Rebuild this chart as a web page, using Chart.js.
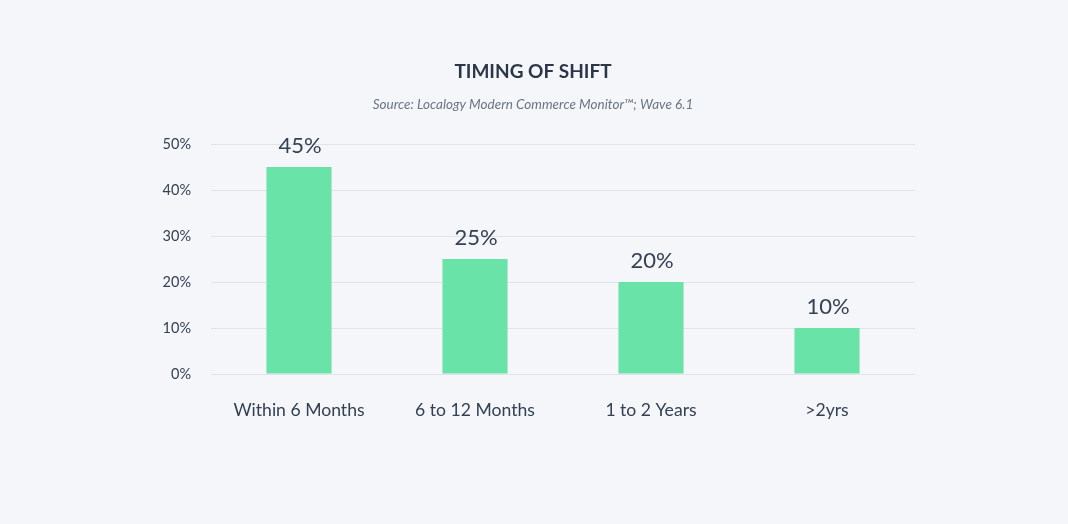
<!DOCTYPE html>
<html>
<head>
<meta charset="utf-8">
<script src="https://cdn.jsdelivr.net/npm/chart.js@4/dist/chart.umd.min.js"></script>
<style>
  html, body { margin: 0; padding: 0; background: #f5f6fa; }
  #wrap { width: 1068px; height: 524px; position: relative; }
</style>
</head>
<body>
<div id="wrap"><canvas id="chShift"></canvas></div>
<script>
// chart data
var categories = ['Within 6 Months', '6 to 12 Months', '1 to 2 Years', '>2yrs'];
var shares = [45, 25, 20, 10];
var tickSteps = [0, 10, 20, 30, 40, 50];

var textColor = '#344153';
var barColor = '#69e3a7';
var gridColor = '#e2e4ea';

// value labels above each bar
var barLabels = {
  id: 'barLabels',
  afterDatasetsDraw: function (chart) {
    var ctx = chart.ctx;
    var meta = chart.getDatasetMeta(0);
    ctx.save();
    ctx.font = '22px Lato';
    ctx.fillStyle = textColor;
    ctx.textAlign = 'center';
    ctx.textBaseline = 'middle';
    meta.data.forEach(function (bar, i) {
      ctx.fillText(shares[i] + '%', bar.x + 1, bar.y - 21);
    });
    ctx.restore();
  }
};

new Chart(document.getElementById('chShift'), {
  type: 'bar',
  data: {
    labels: categories,
    datasets: [{
      data: shares,
      backgroundColor: barColor,
      borderWidth: 0,
      barPercentage: 0.37,
      categoryPercentage: 1
    }]
  },
  options: {
    responsive: true,
    maintainAspectRatio: false,
    animation: false,
    layout: { padding: { top: 40, left: 151, right: 153, bottom: 90 } },
    plugins: {
      legend: { display: false },
      tooltip: { enabled: false },
      title: {
        display: true,
        text: 'TIMING OF SHIFT',
        color: '#2b3748',
        font: { family: 'Lato', size: 19, weight: 'bold' },
        padding: { top: 20, bottom: 11 }
      },
      subtitle: {
        display: true,
        text: 'Source: Localogy Modern Commerce Monitor\u2122; Wave 6.1',
        color: '#6b7483',
        font: { family: 'Lato', size: 13.5, style: 'italic' },
        padding: { top: 3, bottom: 31 }
      }
    },
    scales: {
      x: {
        grid: { display: false },
        border: { display: false },
        ticks: {
          color: textColor,
          font: { family: 'Lato', size: 17.6 },
          padding: 18
        },
        afterFit: function (scale) { scale.height = 60; }
      },
      y: {
        min: tickSteps[0],
        max: tickSteps[tickSteps.length - 1],
        grid: { color: gridColor, drawTicks: false },
        border: { display: false },
        ticks: {
          stepSize: 10,
          color: textColor,
          font: { family: 'Lato', size: 14.5 },
          padding: 20,
          callback: function (v) { return v + '%'; }
        },
        afterFit: function (scale) { scale.width = 60; }
      }
    }
  },
  plugins: [barLabels]
});
</script>
</body>
</html>
